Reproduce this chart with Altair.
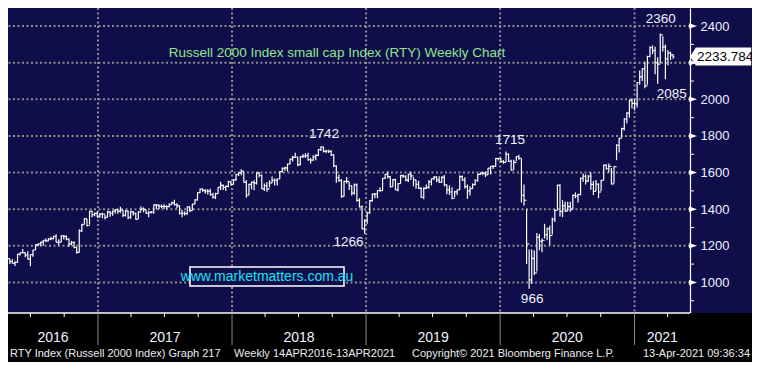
import altair as alt
import pandas as pd

# ---------------- data: weekly bars (week ending Friday) ----------------
close_2016 = [1131, 1145, 1130, 1114, 1104, 1110, 1155, 1163, 1163, 1150, 1127, 1152, 1177, 1206, 1211, 1220,
              1230, 1227, 1237, 1239, 1251, 1219, 1220, 1254, 1252, 1236, 1211, 1218, 1191, 1164, 1282, 1315,
              1348, 1311, 1389, 1370, 1377, 1357]
high_2016 = [1136, 1150, 1150, 1130, 1127, 1115, 1156, 1164, 1183, 1163, 1170, 1154, 1178, 1207, 1213, 1222,
             1232, 1240, 1242, 1250, 1256, 1263, 1236, 1259, 1258, 1255, 1240, 1227, 1225, 1192, 1290, 1320,
             1350, 1346, 1390, 1392, 1382, 1387]
low_2016 = [1110, 1125, 1126, 1100, 1103, 1090, 1108, 1147, 1160, 1137, 1125, 1089, 1140, 1177, 1199, 1200,
            1200, 1220, 1225, 1230, 1236, 1219, 1205, 1220, 1235, 1230, 1195, 1203, 1187, 1156, 1163, 1276,
            1316, 1305, 1315, 1356, 1361, 1356]

close_2017 = [1373, 1373, 1355, 1384, 1378, 1390, 1398, 1390, 1395, 1366, 1390, 1355, 1386, 1377, 1345, 1384,
              1400, 1397, 1377, 1382, 1384, 1424, 1422, 1416, 1414, 1415, 1414, 1425, 1435, 1425, 1419, 1378,
              1378, 1376, 1413, 1392, 1428, 1451, 1490, 1510, 1502, 1498, 1498, 1480, 1466, 1485, 1519, 1530,
              1519, 1525, 1551, 1535]
high_2017 = [1379, 1381, 1370, 1392, 1390, 1391, 1401, 1400, 1414, 1395, 1396, 1393, 1392, 1390, 1380, 1390,
             1416, 1410, 1398, 1390, 1390, 1425, 1429, 1425, 1426, 1427, 1420, 1432, 1441, 1452, 1433, 1420,
             1395, 1387, 1415, 1415, 1430, 1454, 1491, 1513, 1513, 1510, 1510, 1512, 1490, 1490, 1521, 1550,
             1535, 1530, 1555, 1553]
low_2017 = [1356, 1350, 1344, 1356, 1359, 1364, 1377, 1375, 1381, 1357, 1360, 1345, 1348, 1365, 1342, 1346,
            1387, 1383, 1375, 1356, 1376, 1375, 1400, 1400, 1406, 1401, 1400, 1410, 1425, 1420, 1405, 1371,
            1356, 1366, 1370, 1385, 1393, 1427, 1448, 1488, 1495, 1485, 1480, 1475, 1457, 1455, 1484, 1505,
            1505, 1500, 1520, 1530]

close_2018 = [1560, 1590, 1599, 1608, 1547, 1477, 1536, 1546, 1542, 1598, 1584, 1511, 1529, 1511, 1543, 1557,
              1558, 1565, 1605, 1623, 1626, 1647, 1673, 1683, 1685, 1643, 1687, 1690, 1692, 1671, 1668, 1686,
              1694, 1725, 1740, 1716, 1718, 1716, 1697, 1636, 1573, 1556, 1470, 1552, 1552, 1528, 1488, 1533,
              1448, 1413, 1292, 1337]
high_2018 = [1565, 1592, 1600, 1618, 1605, 1560, 1539, 1551, 1558, 1599, 1602, 1590, 1540, 1548, 1558, 1578,
             1567, 1567, 1608, 1628, 1632, 1649, 1675, 1690, 1708, 1685, 1690, 1700, 1706, 1708, 1678, 1695,
             1700, 1728, 1742, 1740, 1725, 1725, 1722, 1700, 1640, 1590, 1565, 1555, 1576, 1550, 1530, 1540,
             1540, 1460, 1420, 1345]
low_2018 = [1534, 1555, 1581, 1586, 1546, 1463, 1478, 1508, 1503, 1535, 1575, 1510, 1500, 1495, 1520, 1543,
            1530, 1530, 1565, 1600, 1610, 1606, 1645, 1661, 1680, 1635, 1640, 1680, 1680, 1665, 1650, 1665,
            1668, 1690, 1718, 1710, 1705, 1707, 1690, 1630, 1545, 1550, 1462, 1468, 1540, 1505, 1475, 1480,
            1440, 1410, 1290, 1266]

close_2019 = [1380, 1447, 1482, 1483, 1502, 1501, 1569, 1590, 1578, 1523, 1562, 1505, 1540, 1583, 1580, 1559,
              1591, 1582, 1560, 1536, 1514, 1465, 1514, 1519, 1549, 1567, 1575, 1560, 1548, 1574, 1533, 1505,
              1494, 1459, 1495, 1506, 1578, 1559, 1523, 1500, 1512, 1535, 1558, 1590, 1597, 1597, 1588, 1624,
              1634, 1634, 1677, 1676]
high_2019 = [1385, 1450, 1486, 1487, 1505, 1520, 1570, 1592, 1606, 1580, 1565, 1566, 1543, 1586, 1590, 1585,
             1593, 1605, 1575, 1560, 1555, 1520, 1520, 1535, 1560, 1568, 1582, 1580, 1580, 1580, 1587, 1535,
             1530, 1520, 1500, 1508, 1585, 1584, 1575, 1535, 1525, 1541, 1564, 1593, 1600, 1605, 1605, 1625,
             1636, 1640, 1680, 1680]
low_2019 = [1320, 1375, 1440, 1460, 1460, 1495, 1500, 1565, 1567, 1518, 1525, 1505, 1498, 1540, 1570, 1553,
            1548, 1560, 1525, 1512, 1510, 1463, 1455, 1510, 1512, 1530, 1560, 1548, 1543, 1545, 1525, 1482,
            1478, 1455, 1465, 1478, 1505, 1555, 1513, 1456, 1475, 1510, 1530, 1550, 1587, 1585, 1576, 1588,
            1590, 1620, 1630, 1666]

close_2020 = [1660, 1656, 1700, 1662, 1614, 1656, 1687, 1678, 1476, 1449, 1210, 1014, 1131, 1052, 1247, 1224,
              1229, 1260, 1293, 1256, 1345, 1394, 1530, 1388, 1418, 1389, 1414, 1399, 1475, 1472, 1480, 1569,
              1580, 1553, 1581, 1536, 1497, 1537, 1494, 1557, 1641, 1621, 1634, 1538, 1632, 1749, 1787, 1840,
              1893, 1925, 1994, 1978]
high_2020 = [1680, 1668, 1715, 1705, 1670, 1670, 1690, 1698, 1675, 1535, 1400, 1180, 1180, 1175, 1270, 1265,
             1240, 1320, 1300, 1310, 1355, 1398, 1535, 1536, 1450, 1440, 1440, 1440, 1480, 1492, 1485, 1574,
             1595, 1590, 1585, 1600, 1555, 1560, 1540, 1560, 1643, 1645, 1650, 1625, 1635, 1755, 1790, 1845,
             1895, 1930, 1997, 2005]
low_2020 = [1655, 1648, 1658, 1658, 1610, 1616, 1662, 1670, 1437, 1420, 1100, 966, 991, 1040, 1060, 1175,
            1165, 1240, 1230, 1205, 1262, 1330, 1398, 1360, 1357, 1385, 1390, 1386, 1400, 1460, 1437, 1477,
            1550, 1535, 1550, 1506, 1477, 1500, 1460, 1500, 1560, 1615, 1600, 1535, 1540, 1668, 1710, 1790,
            1830, 1870, 1900, 1950]

close_2021 = [1975, 2092, 2123, 2168, 2074, 2234, 2283, 2266, 2201, 2192, 2352, 2286, 2221, 2253, 2243, 2233.784]
high_2021 = [2000, 2095, 2158, 2170, 2205, 2238, 2290, 2295, 2287, 2230, 2360, 2345, 2300, 2270, 2260, 2246]
low_2021 = [1940, 1956, 2080, 2100, 2060, 2080, 2230, 2247, 2137, 2085, 2196, 2262, 2110, 2185, 2215, 2222]

first_open = 1128
last_price = 2233.784

y_major = [1000, 1200, 1400, 1600, 1800, 2000, 2200, 2400]
y_minor = [900, 1100, 1300, 1500, 1700, 1900, 2100, 2300]
years = [2016, 2017, 2018, 2019, 2020, 2021]

ann_text = ["2360", "2085", "1742", "1715", "1266", "966"]
ann_date = ["2021-03-19", "2021-03-05", "2018-08-31", "2020-01-17", "2018-12-28", "2020-03-20"]
ann_value = [2360, 2085, 1742, 1715, 1266, 966]

title_text = "Russell 2000 Index small cap Index (RTY) Weekly Chart"
watermark_text = "www.marketmatters.com.au"
footer_texts = ["RTY Index (Russell 2000 Index) Graph 217", "Weekly 14APR2016-13APR2021",
                "Copyright\u00a9 2021 Bloomberg Finance L.P.", "13-Apr-2021 09:36:34"]

# ---------------- assemble ----------------
closes = close_2016 + close_2017 + close_2018 + close_2019 + close_2020 + close_2021
highs = high_2016 + high_2017 + high_2018 + high_2019 + high_2020 + high_2021
lows = low_2016 + low_2017 + low_2018 + low_2019 + low_2020 + low_2021
assert len(closes) == len(highs) == len(lows)
dates = pd.date_range("2016-04-15", periods=len(closes), freq="W-FRI")
opens = [first_open] + closes[:-1]
bars = pd.DataFrame({"date": dates.strftime("%Y-%m-%d"), "open": opens, "high": highs,
                     "low": lows, "close": closes})

PW, PH = 682, 305
RIGHT, BOTTOM = 62, 49
NAVY = "#0f0e4a"
FONT = "Liberation Sans"

d0 = pd.Timestamp("2016-05-01")
d1 = pd.Timestamp("2021-06-01")
x_scale = alt.Scale(domain=[alt.DateTime(year=2016, month=5, date=1),
                            alt.DateTime(year=2021, month=6, date=1)])
y_scale = alt.Scale(domain=[833, 2499], nice=False, zero=False)
y_axis = alt.Axis(orient="right", values=y_major, ticks=False, grid=False, domain=True,
                  domainColor="white", domainWidth=1.2, labelColor="#eef0ff", labelFont=FONT,
                  labelFontSize=13, labelPadding=10, format="d", title=None,
                  labelExpr=f"datum.value == 2200 ? '' : datum.label")


def X(field="date"):
    return alt.X(f"{field}:T", scale=x_scale, axis=None, title=None)


def Y(field):
    return alt.Y(f"{field}:Q", scale=y_scale, axis=y_axis, title=None)


one = pd.DataFrame({"a": [0]})

# bottom black band
band = alt.Chart(one).mark_rect(color="black").encode(
    x=alt.value(0), x2=alt.value(PW + RIGHT), y=alt.value(PH), y2=alt.value(PH + BOTTOM))

# grid
hgrid = alt.Chart(pd.DataFrame({"v": y_major})).mark_rule(
    color="#8e8e8e", strokeWidth=2, strokeDash=[2, 2.5]).encode(y=Y("v"))
year_starts = pd.DataFrame({"d": [f"{y}-01-01" for y in years[1:]]})
vgrid = alt.Chart(year_starts).mark_rule(
    color="#8e8e8e", strokeWidth=2, strokeDash=[2, 2.5]).encode(x=X("d"))

# watermark
wm_box = alt.Chart(one).mark_rect(fill=NAVY, stroke="white", strokeWidth=1.5).encode(
    x=alt.value(182), x2=alt.value(336), y=alt.value(259), y2=alt.value(278))
wm_text = alt.Chart(pd.DataFrame({"t": [watermark_text]})).mark_text(
    color="#19e3f2", font=FONT, fontSize=14, align="center", baseline="middle").encode(
    text="t:N", x=alt.value(259), y=alt.value(268.5))

title = alt.Chart(pd.DataFrame({"t": [title_text]})).mark_text(
    color="#8fe68f", font=FONT, fontSize=13.5, align="center", baseline="middle").encode(
    text="t:N", x=alt.value(329), y=alt.value(45))

# OHLC bars
ohlc = alt.Chart(bars)
hl = ohlc.mark_rule(color="white", strokeWidth=1.2, clip=True).encode(
    x=X(), y=Y("low"), y2="high:Q")
op = ohlc.mark_rule(color="white", strokeWidth=1.2, clip=True, xOffset=-1.3, x2Offset=0).encode(
    x=X(), x2="date:T", y=Y("open"))
cl = ohlc.mark_rule(color="white", strokeWidth=1.2, clip=True, xOffset=0, x2Offset=1.3).encode(
    x=X(), x2="date:T", y=Y("close"))

# annotations
ann_offsets = {"2360": (-2, -14), "2085": (14, 10), "1742": (3, -13),
               "1715": (4, -12), "1266": (-16, 8), "966": (3, 10)}
ann_layers = []
for t, d, v in zip(ann_text, ann_date, ann_value):
    dx, dy = ann_offsets[t]
    ann_layers.append(
        alt.Chart(pd.DataFrame({"t": [t], "d": [d], "v": [v]})).mark_text(
            color="#f2f2ff", font=FONT, fontSize=13.5, align="center", baseline="middle",
            dx=dx, dy=dy).encode(text="t:N", x=X("d"), y=Y("v")))

# right-axis decorations
minor_ticks = alt.Chart(pd.DataFrame({"v": y_minor})).mark_rule(color="white", strokeWidth=1).encode(
    y=Y("v"), x=alt.value(PW), x2=alt.value(PW + 4))
major_ticks = alt.Chart(pd.DataFrame({"v": y_major})).mark_point(
    shape="M-1,-0.55L0.6,0L-1,0.55Z", size=100, filled=True, color="white", opacity=1).encode(
    y=Y("v"), x=alt.value(PW + 4))

price = pd.DataFrame({"v": [last_price], "t": [f"{last_price:.3f}"]})
price_box = alt.Chart(price).mark_point(
    shape="M-3.4,0L-2.75,-1L3.4,-1L3.4,1L-2.75,1Z", size=324, filled=True, color="white",
    opacity=1).encode(y=Y("v"), x=alt.value(PW + 30.6))
price_text = alt.Chart(price).mark_text(
    color="black", font=FONT, fontSize=13.5, align="left", baseline="middle").encode(
    text="t:N", y=Y("v"), x=alt.value(PW + 7))

# bottom axis decorations
x_line = alt.Chart(one).mark_rule(color="white", strokeWidth=1.5).encode(y=alt.value(PH))
sep = alt.Chart(year_starts).mark_rule(color="#8a8a8a", strokeWidth=1).encode(
    x=X("d"), y=alt.value(PH), y2=alt.value(PH + 32))
qdates = [d for d in pd.date_range("2016-07-01", "2021-04-01", freq="QS") if d.month != 1]
qticks = alt.Chart(pd.DataFrame({"d": [d.strftime("%Y-%m-%d") for d in qdates]})).mark_rule(
    color="white", strokeWidth=1).encode(x=X("d"), y=alt.value(PH), y2=alt.value(PH + 4))

mids = []
for y in years:
    s = max(pd.Timestamp(f"{y}-01-01"), d0)
    e = min(pd.Timestamp(f"{y + 1}-01-01"), d1)
    mids.append((s + (e - s) / 2).strftime("%Y-%m-%dT%H:%M:%S"))
year_labels = alt.Chart(pd.DataFrame({"y": [str(y) for y in years], "d": mids})).mark_text(
    color="#f2f2ff", font=FONT, fontSize=14, align="center", baseline="middle").encode(
    text="y:N", x=X("d"), y=alt.value(PH + 25))

footer_pos = [(2, "left"), (226, "left"), (404, "left"), (742, "right")]
footer_layers = []
for txt, (fx, al) in zip(footer_texts, footer_pos):
    footer_layers.append(
        alt.Chart(pd.DataFrame({"t": [txt]})).mark_text(
            color="#ececf4", font=FONT, fontSize=11, align=al, baseline="middle").encode(
            text="t:N", x=alt.value(fx), y=alt.value(PH + 41)))

chart = alt.layer(
    band, hgrid, vgrid, wm_box, wm_text, title, hl, op, cl, *ann_layers,
    minor_ticks, major_ticks, price_box, price_text,
    x_line, sep, qticks, year_labels, *footer_layers
).properties(
    width=PW, height=PH,
    autosize=alt.AutoSizeParams(type="none"),
    padding={"left": 0, "top": 0, "right": RIGHT, "bottom": BOTTOM},
).configure(background=NAVY).configure_view(stroke=None, fill=NAVY)

chart.save("out.html", embed_options={"renderer": "svg", "actions": False})
